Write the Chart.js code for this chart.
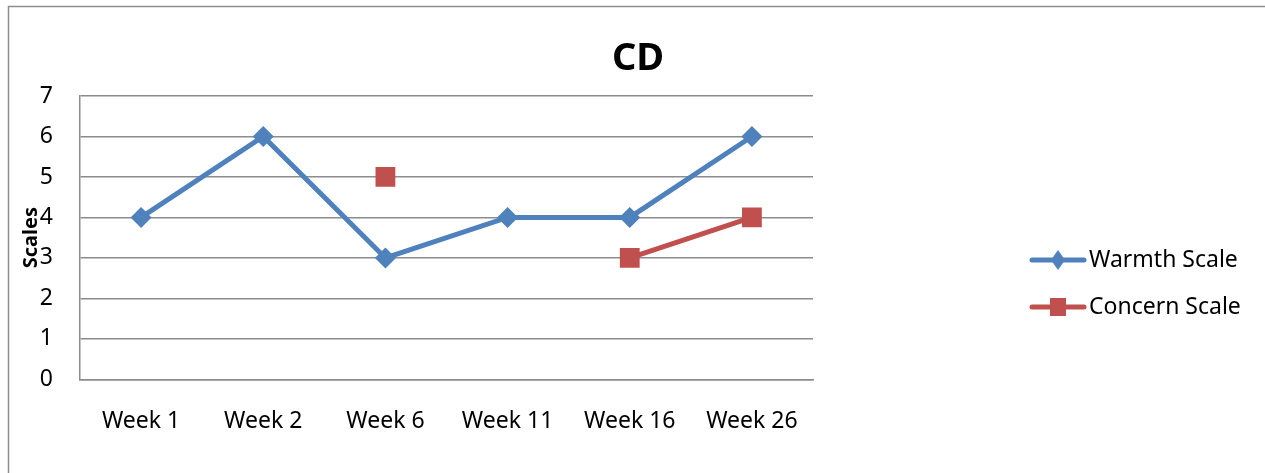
<!DOCTYPE html>
<html>
<head>
<meta charset="utf-8">
<script src="https://cdn.jsdelivr.net/npm/chart.js@4"></script>
<style>
  html, body { margin: 0; padding: 0; background: #fff; }
  #wrap { width: 1265px; height: 473px; }
</style>
</head>
<body>
<div id="wrap"><canvas id="cd-chart"></canvas></div>
<script>
// datos
const weeks = ['Week 1', 'Week 2', 'Week 6', 'Week 11', 'Week 16', 'Week 26'];
const warmth = [4, 6, 3, 4, 4, 6];
const concern = [null, null, 5, null, 3, 4];
const yTicks = [0, 1, 2, 3, 4, 5, 6, 7];
const chartTitle = 'CD';

const FONT = '"Noto Sans", "Open Sans", sans-serif';
const BLUE = '#4F81BD';
const RED = '#C0504D';
const GRID = '#8c8c8c';

// marco exterior (solo arriba e izquierda) y título centrado en el lienzo
const framePlugin = {
  id: 'frame',
  beforeDraw(chart) {
    const ctx = chart.ctx;
    ctx.save();
    ctx.strokeStyle = '#8e8e8e';
    ctx.lineWidth = 1.5;
    ctx.beginPath();
    ctx.moveTo(8.5, 473);
    ctx.lineTo(8.5, 6.5);
    ctx.lineTo(1265, 6.5);
    ctx.stroke();
    ctx.fillStyle = '#000';
    ctx.font = 'bold 38px ' + FONT;
    ctx.textAlign = 'center';
    ctx.textBaseline = 'middle';
    ctx.fillText(chartTitle, 638, 59);
    ctx.restore();
  }
};

// leyenda a la derecha con línea + marcador
const legendPlugin = {
  id: 'sideLegend',
  afterDraw(chart) {
    const ctx = chart.ctx;
    const rows = [260, 307];
    chart.data.datasets.forEach((ds, i) => {
      const y = rows[i];
      ctx.save();
      ctx.strokeStyle = ds.borderColor;
      ctx.lineWidth = 5;
      ctx.lineCap = 'round';
      ctx.beginPath();
      ctx.moveTo(1032, y);
      ctx.lineTo(1084, y);
      ctx.stroke();
      ctx.fillStyle = ds.backgroundColor;
      if (ds.pointStyle === 'rectRot') {
        ctx.beginPath();
        ctx.moveTo(1058, y - 10);
        ctx.lineTo(1065, y);
        ctx.lineTo(1058, y + 10);
        ctx.lineTo(1051, y);
        ctx.closePath();
        ctx.fill();
      } else {
        ctx.fillRect(1050, y - 9, 16, 18);
      }
      ctx.fillStyle = '#000';
      ctx.font = '23px ' + FONT;
      ctx.textBaseline = 'middle';
      ctx.textAlign = 'left';
      ctx.fillText(ds.label, 1089, y);
      ctx.restore();
    });
  }
};

new Chart(document.getElementById('cd-chart'), {
  type: 'line',
  data: {
    labels: weeks,
    datasets: [{
      label: 'Warmth Scale',
      data: warmth,
      borderColor: BLUE,
      backgroundColor: BLUE,
      borderWidth: 5,
      pointStyle: 'rectRot',
      pointRadius: 10.5,
      pointHoverRadius: 10.5,
      pointBorderWidth: 0,
      tension: 0
    }, {
      label: 'Concern Scale',
      data: concern,
      borderColor: RED,
      backgroundColor: RED,
      borderWidth: 5,
      pointStyle: 'rect',
      pointRadius: 14,
      pointHoverRadius: 14,
      pointBorderWidth: 0,
      spanGaps: false,
      tension: 0
    }]
  },
  options: {
    responsive: true,
    maintainAspectRatio: false,
    animation: false,
    layout: { padding: { left: 0, right: 452, top: 96, bottom: 10 } },
    plugins: {
      legend: { display: false },
      tooltip: { enabled: false },
      title: { display: false }
    },
    scales: {
      x: {
        offset: true,
        grid: { display: false, drawTicks: false },
        border: { display: true, color: GRID, width: 1.5 },
        ticks: { color: '#000', padding: 28, maxRotation: 0, font: { family: FONT, size: 23 } }
      },
      y: {
        min: 0,
        max: 7,
        afterFit(scale) { scale.width = 80; },
        afterBuildTicks(scale) { scale.ticks = yTicks.map(v => ({ value: v })); },
        grid: { color: GRID, lineWidth: 1.5, drawTicks: false },
        border: { display: true, color: GRID, width: 1.5 },
        ticks: { color: '#000', padding: 27, font: { family: FONT, size: 23 } },
        title: {
          display: true,
          text: 'Scales',
          color: '#000',
          font: { family: FONT, size: 20, weight: 'bold', lineHeight: 1.2 },
          padding: { top: 19, bottom: 0 }
        }
      }
    }
  },
  plugins: [framePlugin, legendPlugin]
});
</script>
</body>
</html>
